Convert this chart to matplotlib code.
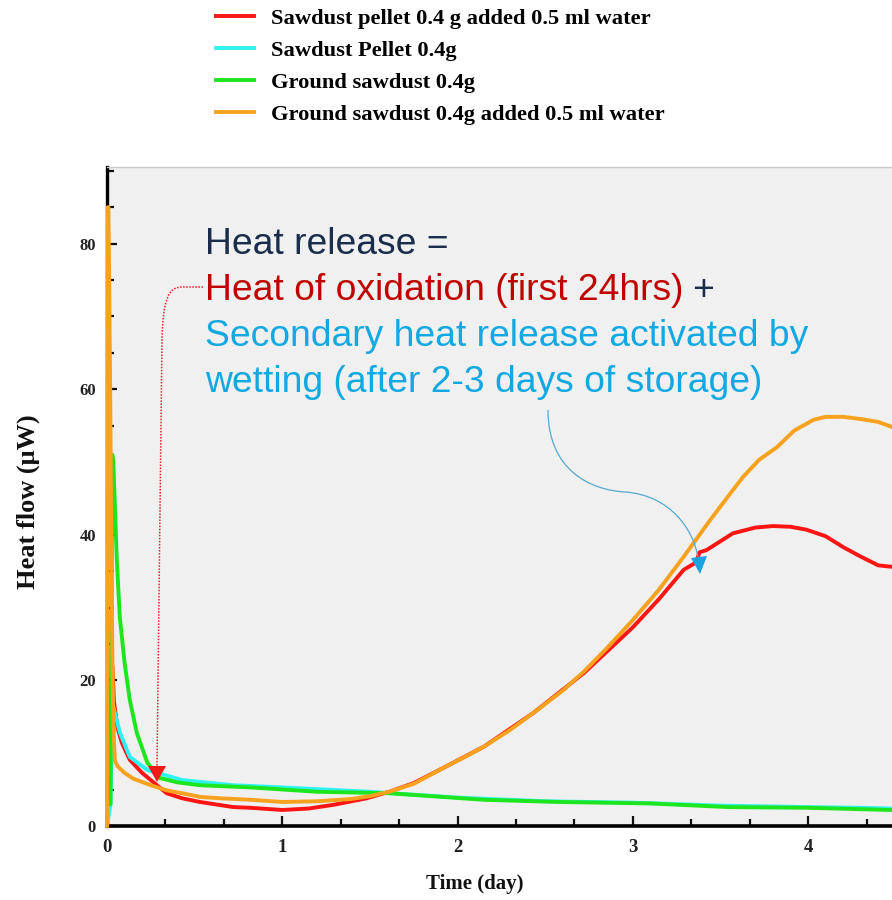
import matplotlib
matplotlib.use("Agg")
import matplotlib.pyplot as plt
from matplotlib.lines import Line2D
from matplotlib.patches import PathPatch, Polygon
from matplotlib.path import Path
from matplotlib.ticker import MultipleLocator

# ---- series (time in days, heat flow in microwatts) ----
pellet_wet_t = [0, 0.01, 0.02, 0.03, 0.04, 0.06, 0.085, 0.13, 0.2, 0.25, 0.34, 0.43,
                0.53, 0.72, 0.82, 1.0, 1.15, 1.29, 1.48, 1.61, 1.75, 1.92, 2.15, 2.43,
                2.72, 3.0, 3.15, 3.29, 3.36, 3.38, 3.42, 3.57, 3.7, 3.8, 3.9, 3.99,
                4.1, 4.2, 4.3, 4.4, 4.48]
pellet_wet_q = [0, 5, 15, 22, 17, 13.5, 11.4, 9.1, 7.3, 6.3, 4.5, 3.8,
                3.3, 2.6, 2.5, 2.2, 2.4, 2.9, 3.8, 4.7, 5.9, 8.0, 10.9, 15.5,
                21.0, 27.3, 31.2, 35.2, 36.2, 37.6, 37.9, 40.2, 41.0, 41.2, 41.1, 40.7,
                39.8, 38.3, 37.0, 35.8, 35.6]

pellet_dry_t = [0, 0.02, 0.03, 0.045, 0.074, 0.13, 0.23, 0.43, 0.72, 1.0, 1.5, 2.0,
                2.5, 3.0, 3.5, 4.0, 4.3, 4.48]
pellet_dry_q = [0, 3, 17, 15.5, 12.8, 9.5, 7.7, 6.3, 5.6, 5.3, 4.7, 3.9,
                3.4, 3.2, 2.8, 2.6, 2.5, 2.4]

ground_dry_t = [0, 0.02, 0.03, 0.036, 0.045, 0.056, 0.073, 0.1, 0.13, 0.17, 0.23, 0.3,
                0.4, 0.53, 0.82, 1.2, 1.61, 2.15, 2.58, 3.1, 3.54, 4.0, 4.47]
ground_dry_q = [3, 3, 51, 50, 44, 36.5, 28.7, 22.5, 17.3, 12.8, 8.7, 6.6,
                6.0, 5.6, 5.3, 4.7, 4.5, 3.6, 3.3, 3.1, 2.6, 2.5, 2.2]

ground_wet_t = [0, 0.004, 0.008, 0.012, 0.018, 0.024, 0.03, 0.036, 0.045, 0.06, 0.1,
                0.15, 0.25, 0.34, 0.45, 0.53, 0.65, 0.82, 1.0, 1.2, 1.39, 1.5, 1.61,
                1.75, 1.92, 2.05, 2.15, 2.3, 2.43, 2.6, 2.72, 2.85, 3.0, 3.15, 3.29,
                3.44, 3.55, 3.63, 3.72, 3.82, 3.92, 4.03, 4.1, 4.2, 4.3, 4.4, 4.48]
ground_wet_q = [0, 85, 85, 76, 60, 40, 25, 14, 9, 8.2, 7.3,
                6.5, 5.6, 4.9, 4.4, 4.0, 3.8, 3.6, 3.3, 3.4, 3.7, 4.1, 4.7,
                5.8, 8.0, 9.6, 10.9, 13.2, 15.5, 18.6, 21.2, 24.4, 28.3, 32.5, 37,
                42, 45.5, 48, 50.3, 52, 54.3, 55.8, 56.2, 56.2, 55.9, 55.5, 54.8]

labels = ["Sawdust pellet 0.4 g added 0.5 ml water",
          "Sawdust Pellet 0.4g",
          "Ground sawdust 0.4g",
          "Ground sawdust 0.4g added 0.5 ml water"]
colors = ["#ff1414", "#2ef2f2", "#1ee61e", "#f7a21e"]

W, H = 892, 900


def px(x, y):
    """Pixel position (from top-left) to figure fraction."""
    return (x / W, 1 - y / H)


fig = plt.figure(figsize=(W / 100, H / 100), dpi=100)
ax = fig.add_axes([107 / W, 1 - 826 / H, 1 - 107 / W, (826 - 167) / H])
ax.set_facecolor("#f0f0f0")

series = [(pellet_wet_t, pellet_wet_q), (pellet_dry_t, pellet_dry_q),
          (ground_dry_t, ground_dry_q), (ground_wet_t, ground_wet_q)]
for i, ((t, q), c) in enumerate(zip(series, colors)):
    ax.plot(t, q, color=c, lw=2.8, zorder=2 + i, solid_joinstyle="round",
            clip_on=False if i == 3 else True)

ax.set_xlim(0, (W - 107) / 175.3)
ax.set_ylim(0, (826 - 167) / 7.28)

serif = "Liberation Serif"
ax.xaxis.set_major_locator(MultipleLocator(1))
ax.xaxis.set_minor_locator(MultipleLocator(1 / 3))
ax.yaxis.set_major_locator(MultipleLocator(20))
ax.yaxis.set_minor_locator(MultipleLocator(5))
ax.tick_params(which="both", direction="in", color="#111111", width=1.6)
ax.tick_params(which="major", length=7)
ax.tick_params(which="minor", length=5)
ax.tick_params(axis="x", which="major", pad=9)
ax.tick_params(axis="y", which="major", pad=8)
for lab in ax.get_xticklabels() + ax.get_yticklabels():
    lab.set_fontfamily(serif)
    lab.set_fontweight("bold")
    lab.set_color("#222222")
ax.tick_params(axis="x", labelsize=13.5)
ax.tick_params(axis="y", labelsize=12)

ax.spines["left"].set_linewidth(2.4)
ax.spines["bottom"].set_linewidth(2.6)
ax.spines["left"].set_color("#000000")
ax.spines["bottom"].set_color("#000000")
ax.spines["top"].set_color("#c8c8c8")
ax.spines["top"].set_linewidth(1.0)
ax.spines["right"].set_visible(False)

ax.set_xlabel("Time (day)", fontfamily=serif, fontweight="bold", fontsize=15,
              color="#111111")
ax.xaxis.set_label_coords((475 - 107) / (W - 107), -(884 - 826) / (826 - 167))
ax.xaxis.label.set_va("center")
ax.set_ylabel("Heat flow (\u03bcW)", fontfamily=serif, fontweight="bold", fontsize=19,
              color="#111111")
ax.yaxis.set_label_coords(-(107 - 28) / (W - 107), (826 - 502) / (826 - 167))
ax.yaxis.label.set_va("center")

handles = [Line2D([], [], color=c, lw=2.8) for c in colors]
fig.legend(handles, labels, loc="upper left", bbox_to_anchor=px(216, 8),
           frameon=False, borderpad=0, borderaxespad=0,
           prop={"family": serif, "weight": "bold", "size": 16.2},
           handlelength=1.7, handletextpad=0.75, labelspacing=0.5)

# ---- annotation text ----
sans = "Liberation Sans"
navy = "#1a2d4c"
dark_red = "#c00000"
sky = "#12a8e2"
fs = 26.8
fig.text(*px(205, 245), "Heat release =", color=navy, fontsize=fs, fontfamily=sans,
         va="center")
fig.text(*px(205, 291), "Heat of oxidation (first 24hrs)", color=dark_red,
         fontsize=fs, fontfamily=sans, va="center")
fig.text(*px(692, 291), "+", color=navy, fontsize=fs, fontfamily=sans, va="center")
fig.text(*px(205, 337), "Secondary heat release activated by", color=sky, fontsize=fs,
         fontfamily=sans, va="center")
fig.text(*px(205, 383), "wetting (after 2-3 days of storage)", color=sky, fontsize=fs,
         fontfamily=sans, va="center")

# red dotted leader to the early oxidation peak
red_path = Path([px(203, 287), px(182, 287), px(168, 287), px(163, 300), px(162, 340),
                 px(157, 766)],
                [Path.MOVETO, Path.LINETO, Path.CURVE4, Path.CURVE4, Path.CURVE4,
                 Path.LINETO])
fig.add_artist(PathPatch(red_path, transform=fig.transFigure, fill=False,
                         edgecolor="#e8202a", lw=1.1, ls=(0, (1, 1)), zorder=10))
fig.add_artist(Polygon([px(148, 766), px(166, 766), px(157, 782)], closed=True,
                       transform=fig.transFigure, facecolor="#f01818",
                       edgecolor="none", zorder=10))

# blue curved leader to the secondary rise
blue_path = Path([px(548, 410), px(548, 470), px(590, 490), px(625, 492),
                  px(670, 495), px(694, 530), px(698, 558)],
                 [Path.MOVETO, Path.CURVE4, Path.CURVE4, Path.CURVE4,
                  Path.CURVE4, Path.CURVE4, Path.CURVE4])
fig.add_artist(PathPatch(blue_path, transform=fig.transFigure, fill=False,
                         edgecolor="#55a8d0", lw=0.9, zorder=10))
fig.add_artist(Polygon([px(691, 558), px(707, 556), px(700, 574)], closed=True,
                       transform=fig.transFigure, facecolor="#18a2e0",
                       edgecolor="none", zorder=10))

fig.savefig("out.png", dpi=100, facecolor="white")
